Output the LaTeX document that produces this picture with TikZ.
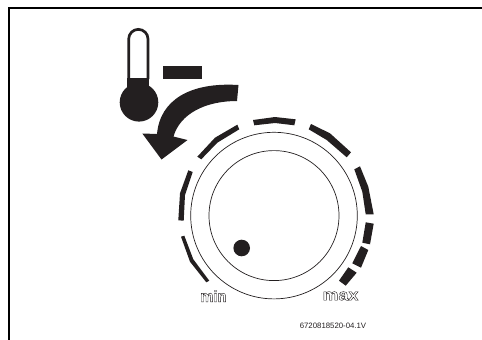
\documentclass[tikz,border=0pt]{standalone}
\usepackage{fontspec}
\setmainfont{Liberation Sans}
\newcommand{\hollow}[1]{\special{pdf:code 1 Tr 0.4 w}#1\special{pdf:code 0 Tr 1 w}}
\definecolor{ink}{HTML}{231F20}
\tikzset{
  seg/.style={fill=ink,draw=none},
  ring/.style={draw=ink,line width=0.7pt},
  scalelabel/.style={inner sep=0pt,text=ink,font=\fontsize{16}{16}\selectfont\bfseries},
  partcode/.style={inner sep=0pt,text=ink,font=\fontsize{7.8}{8}\selectfont}
}
\begin{document}
\begin{tikzpicture}[x=1pt,y=-1pt]
\useasboundingbox (0,0) rectangle (482,340);
\draw[black,line width=2pt] (9,340) -- (9,7.7) -- (482,7.7);
% thermometer
\draw[ink,line width=2.7pt] (128.7,79) -- (128.7,39) arc[start angle=180,end angle=360,radius=9.65] -- (148,79);
\fill[ink] (127.3,78.3) rectangle (149.3,90);
\fill[ink] (139,102.3) circle[radius=19.3];
\fill[ink] (163,66) rectangle (202,79);
% arrow
\fill[ink] (238.5,85) .. controls (190,82) and (160,100) .. (157,134) -- (142.3,133.5) -- (161.5,159.5) -- (187.5,140) -- (173.5,136.5) .. controls (180,114) and (205,101) .. (237,101) -- cycle;
% dial
\draw[ring] (274,215.6) circle[radius=83.3];
\draw[ring] (274,215.6) circle[radius=65];
\fill[ink] (241.7,248) circle[radius=8.3];
% scale segments
\fill[seg] (253,120) -- (275,117) -- (295.7,119.3) -- (294.3,125.3) -- (275,123) -- (254.3,125.3) -- cycle;
\fill[seg] (311,124) -- (330,133.3) -- (351,152.3) -- (346.7,157.3) -- (326.7,140) -- (308.7,129.3) -- cycle;
\fill[seg] (360,166.3) -- (368.3,186.7) -- (373.7,214.3) -- (365.7,214.3) -- (362.3,191.7) -- (354.3,169.3) -- cycle;
\fill[seg] (365.7,222.3) -- (373.7,223.7) -- (370,244.3) -- (362.3,242.7) -- cycle;
\fill[seg] (361,246) -- (368.3,250) -- (361,267.7) -- (352.3,263.3) -- cycle;
\fill[seg] (348.3,267.3) -- (356.7,272.7) -- (345.7,285.7) -- (339,280.7) -- cycle;
\fill[seg] (197.3,156.7) -- (215,137.7) -- (237.3,124.7) -- (239.3,129.3) -- (217.3,142.7) -- (201.3,159.3) -- cycle;
\fill[seg] (188.3,170.3) -- (192.7,172) -- (185,195) -- (183.7,220.7) -- (178.3,220.3) -- (180,193.3) -- cycle;
\fill[seg] (181,236.7) -- (184.3,235.7) -- (193.3,259.3) -- (209.3,280.7) -- (206.3,282.3) -- (190,261.7) -- cycle;
% labels
\node[scalelabel,xscale=.92] (minlabel) at (213.5,296) {\hollow{min}};
\node[scalelabel,xscale=1.12] (maxlabel) at (340.5,296) {\hollow{max}};
\node[partcode] (code) at (333,325.5) {6720818520-04.1V};
\end{tikzpicture}
\end{document}
